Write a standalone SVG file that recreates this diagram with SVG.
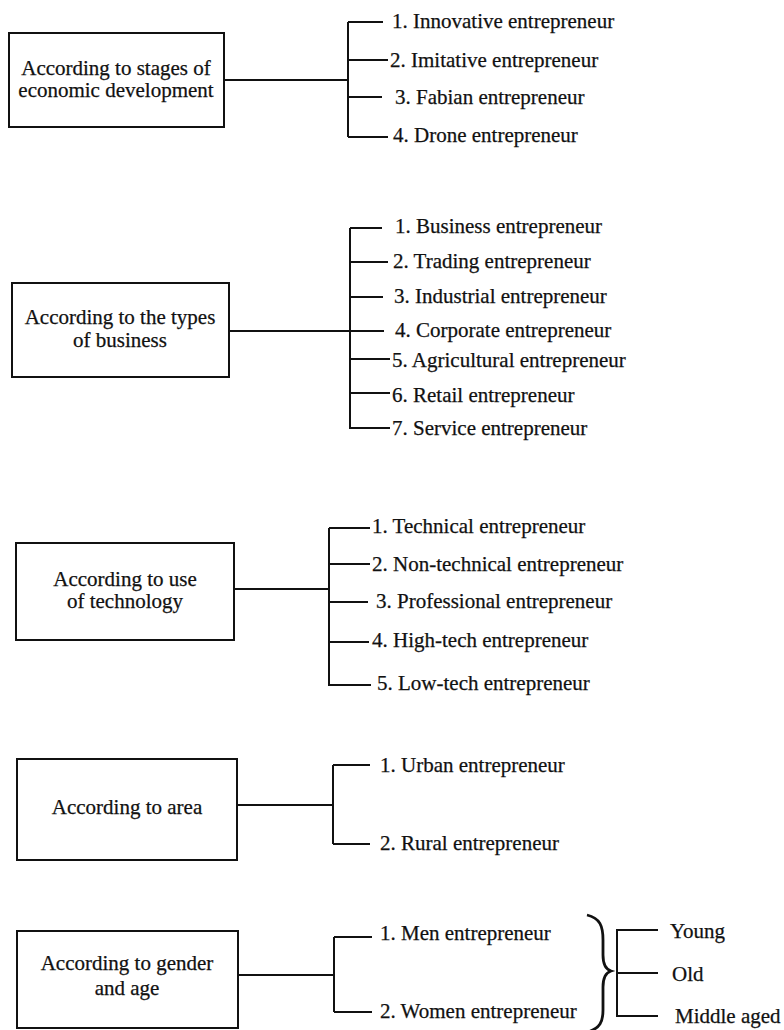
<svg xmlns="http://www.w3.org/2000/svg" width="784" height="1030" viewBox="0 0 784 1030">
<style>
.box{fill:#fff;stroke:#111;stroke-width:2}
.ln{fill:none;stroke:#111;stroke-width:2}
.brace{fill:none;stroke:#111;stroke-width:2.8}
text{font-family:"Liberation Serif","Times New Roman",serif;font-size:21px;fill:#111;stroke:#111;stroke-width:0.25}
.c{text-anchor:middle}
</style>
<rect width="784" height="1030" fill="#fff"/>
<g id="connectors">
<path class="ln" d="M224,80H348M348,22V137M348,22H383M348,60H388M348,97H382M348,137H388"/>
<path class="ln" d="M229,331H350M350,228V429M350,228H382M350,262H388M350,297H383M350,331H384M350,359H390M350,393H390M350,428H390"/>
<path class="ln" d="M234,589H329M329,528V686M329,528H370M329,564H370M329,602H368M329,642H369M329,685H371"/>
<path class="ln" d="M237,805H333M333,765V844M333,765H370M333,844H370"/>
<path class="ln" d="M238,975H334M334,937V1012M334,937H372M334,1012H372"/>
<path class="brace" d="M587,915C600,918 603,926 603,940V955C603,964 605,969 611,971C605,973 603,978 603,987V1010C603,1022 600,1028 588,1032"/>
<path class="ln" d="M658,930H617V1016H658M617,973H658"/>
</g>
<g id="n1">
<rect class="box" x="9" y="33" width="215" height="94"/>
<text class="c" x="116" y="75">According to stages of</text>
<text class="c" x="116" y="97">economic development</text>
</g>
<g id="n1-items">
<text x="392" y="28">1. Innovative entrepreneur</text>
<text x="390" y="67">2. Imitative entrepreneur</text>
<text x="395" y="104">3. Fabian entrepreneur</text>
<text x="393" y="142">4. Drone entrepreneur</text>
</g>
<g id="n2">
<rect class="box" x="12" y="283" width="217" height="94"/>
<text class="c" x="120" y="324">According to the types</text>
<text class="c" x="120" y="347">of business</text>
</g>
<g id="n2-items">
<text x="395" y="233">1. Business entrepreneur</text>
<text x="393" y="268">2. Trading entrepreneur</text>
<text x="394" y="303">3. Industrial entrepreneur</text>
<text x="395" y="337">4. Corporate entrepreneur</text>
<text x="392" y="367">5. Agricultural entrepreneur</text>
<text x="392" y="402">6. Retail entrepreneur</text>
<text x="392" y="435">7. Service entrepreneur</text>
</g>
<g id="n3">
<rect class="box" x="16" y="543" width="218" height="97"/>
<text class="c" x="125" y="586">According to use</text>
<text class="c" x="125" y="608">of technology</text>
</g>
<g id="n3-items">
<text x="372" y="533">1. Technical entrepreneur</text>
<text x="372" y="571">2. Non-technical entrepreneur</text>
<text x="376" y="608">3. Professional entrepreneur</text>
<text x="372" y="647">4. High-tech entrepreneur</text>
<text x="377" y="690">5. Low-tech entrepreneur</text>
</g>
<g id="n4">
<rect class="box" x="17" y="759" width="220" height="101"/>
<text class="c" x="127" y="814">According to area</text>
</g>
<g id="n4-items">
<text x="380" y="772">1. Urban entrepreneur</text>
<text x="380" y="850">2. Rural entrepreneur</text>
</g>
<g id="n5">
<rect class="box" x="17" y="931" width="221" height="97"/>
<text class="c" x="127" y="970">According to gender</text>
<text class="c" x="127" y="995">and age</text>
</g>
<g id="n5-items">
<text x="380" y="940">1. Men entrepreneur</text>
<text x="380" y="1018">2. Women entrepreneur</text>
</g>
<g id="n5-ages">
<text x="670" y="938">Young</text>
<text x="672" y="981">Old</text>
<text x="675" y="1023">Middle aged</text>
</g>
</svg>
